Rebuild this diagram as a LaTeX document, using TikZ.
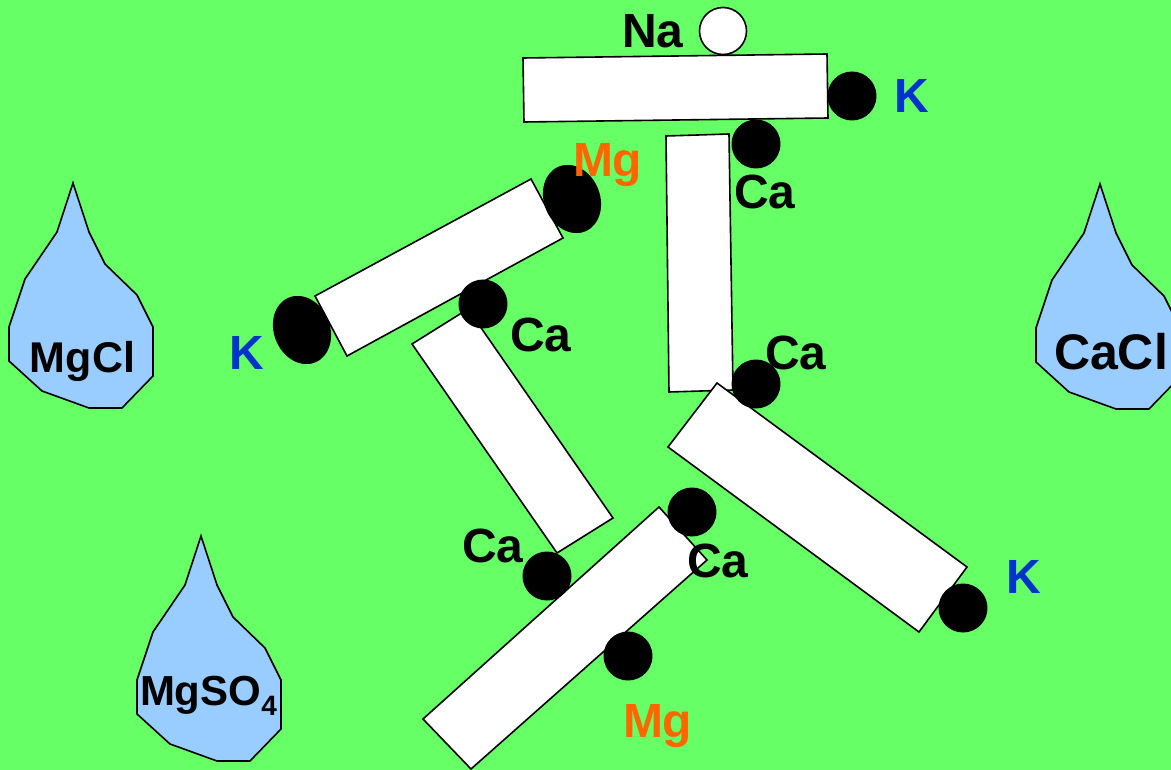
\documentclass[tikz,border=0pt]{standalone}
\usepackage{fontspec}
\setmainfont{Liberation Sans}
\usetikzlibrary{shapes.geometric}
\definecolor{bg}{HTML}{66FF66}
\definecolor{dropfill}{HTML}{99CCFF}
\definecolor{kblue}{HTML}{0033CC}
\definecolor{mgorange}{HTML}{FF6600}
\begin{document}
\begin{tikzpicture}[x=1pt,y=-1pt,
  bar/.style={draw=black, fill=white, line width=1.6pt, line join=miter},
  dropshape/.style={draw=black, fill=dropfill, line width=1.6pt, line join=miter},
  atom/.style={circle, fill=black, minimum size=49pt, inner sep=0pt, outer sep=0pt},
  oval/.style={ellipse, fill=black, minimum width=56pt, minimum height=70pt, inner sep=0pt, rotate=22},
  lbl/.style={font=\fontsize{48}{54}\selectfont\bfseries, anchor=base west, inner sep=0pt, outer sep=0pt},
  droppic/.pic={\draw[dropshape] (0,0) -- (16,49) -- (32,81) -- (64,112) -- (80,144) -- (80,193) -- (49,225) -- (16,225) -- (-31,208) -- (-64,178) -- (-64,144) -- (-48,96) -- (-16,49) -- cycle;}
]
\useasboundingbox (0,0) rectangle (1171,770);
\clip (0,0) rectangle (1171,770);
\fill[bg] (0,0) rectangle (1171,770);

% drops
\pic at (73,183) {droppic};
\pic at (1100,184) {droppic};
\pic at (201,536) {droppic};

% bars
\draw[bar] (523,58) -- (827,54) -- (828,118) -- (524,122) -- cycle;
\draw[bar] (666,136) -- (729,134) -- (733,390) -- (669,392) -- cycle;
\draw[bar] (315,296) -- (531,179) -- (563,238) -- (347,356) -- cycle;
\draw[bar] (412,344) -- (468,309) -- (613,518) -- (557,553) -- cycle;
\draw[bar] (423,719) -- (659,507) -- (707,560) -- (471,769) -- cycle;
\draw[bar] (668,447) -- (717,383) -- (967,567) -- (919,632) -- cycle;

% atoms
\node[circle, draw=black, fill=white, line width=1.6pt, minimum size=47pt, inner sep=0pt] (na) at (723,31) {};
\node[atom] (k1) at (852,96) {};
\node[atom] (ca1) at (756,144) {};
\node[oval] (mg1) at (572,199) {};
\node[oval] (k2) at (302,330) {};
\node[atom] (ca2) at (483,304) {};
\node[atom] (ca3) at (547,576) {};
\node[atom] (ca4) at (692,512) {};
\node[atom] (mg2) at (628,656) {};
\node[atom] (ca5) at (756,384) {};
\node[atom] (k3) at (963,608) {};

% labels
\node[lbl] (lna) at (622,48) {Na};
\node[lbl, text=kblue] (lk1) at (894,113) {K};
\node[lbl, text=mgorange] (lmg1) at (573,177) {Mg};
\node[lbl] (lca1) at (734,209) {Ca};
\node[lbl] (lca2) at (510,352) {Ca};
\node[lbl, text=kblue] (lk2) at (229,370) {K};
\node[lbl] (lca5) at (765,369) {Ca};
\node[lbl] (lca3) at (462,562) {Ca};
\node[lbl] (lca4) at (687,577) {Ca};
\node[lbl, text=kblue] (lk3) at (1006,593) {K};
\node[lbl, text=mgorange] (lmg2) at (623,737) {Mg};

\node[lbl, font=\fontsize{43}{50}\selectfont\bfseries] (mgcl) at (30,373) {MgCl};
\node[lbl, font=\fontsize{50}{56}\selectfont\bfseries] (cacl) at (1054,369) {CaCl};
\node[lbl, font=\fontsize{42}{48}\selectfont\bfseries] (mgso) at (140,705) {MgSO\raisebox{-10pt}{\fontsize{28}{32}\selectfont 4}};
\end{tikzpicture}
\end{document}
